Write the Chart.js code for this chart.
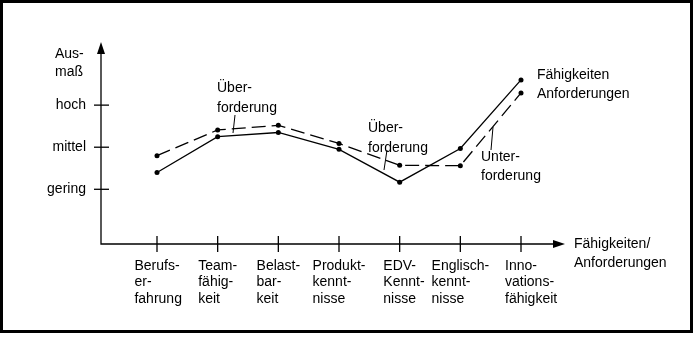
<!DOCTYPE html>
<html>
<head>
<meta charset="utf-8">
<script src="https://cdn.jsdelivr.net/npm/chart.js@4"></script>
<style>
  html, body { margin: 0; padding: 0; background: #fff; }
  #wrap { width: 694px; height: 337px; }
</style>
</head>
<body>
<div id="wrap"><canvas id="lineChart" width="694" height="337"></canvas></div>
<script>
// categories, each split into its printed lines
var categories = [
    ["Berufs-", "er-", "fahrung"],
    ["Team-", "fähig-", "keit"],
    ["Belast-", "bar-", "keit"],
    ["Produkt-", "kennt-", "nisse"],
    ["EDV-", "Kennt-", "nisse"],
    ["Englisch-", "kennt-", "nisse"],
    ["Inno-", "vations-", "fähigkeit"]
];

// 1 = gering, 2 = mittel, 3 = hoch
var faehigkeiten = [1.40, 2.25, 2.35, 1.95, 1.17, 1.97, 3.60];
var anforderungen = [1.80, 2.41, 2.52, 2.09, 1.57, 1.56, 3.29];

var levelValues = [1, 2, 3];
var levelLabels = ["gering", "mittel", "hoch"];

var FONT = '14px "Liberation Sans", Arial, sans-serif';

// axes, labels and notes drawn on top of the chart
var sketch = {
    id: 'sketch',
    afterDraw: function (chart) {
        var c = chart.ctx;
        var xs = chart.scales.x, ys = chart.scales.y;
        var axisX = 101, axisY = ys.getPixelForValue(-0.3);
        var topY = 42, rightX = 565;

        c.save();
        c.strokeStyle = '#000';
        c.fillStyle = '#000';

        // frame
        c.lineWidth = 3;
        c.strokeRect(1.5, 1.5, 690, 330);

        // axes
        c.lineWidth = 1.3;
        c.beginPath();
        c.moveTo(axisX, topY + 8);
        c.lineTo(axisX, axisY);
        c.lineTo(rightX - 8, axisY);
        c.stroke();
        c.beginPath();
        c.moveTo(axisX, topY);
        c.lineTo(axisX - 4, topY + 12);
        c.lineTo(axisX + 4, topY + 12);
        c.closePath();
        c.fill();
        c.beginPath();
        c.moveTo(rightX, axisY);
        c.lineTo(rightX - 12, axisY - 4);
        c.lineTo(rightX - 12, axisY + 4);
        c.closePath();
        c.fill();

        c.font = FONT;

        // y ticks
        c.textBaseline = 'middle';
        c.textAlign = 'right';
        levelValues.forEach(function (v, i) {
            var py = ys.getPixelForValue(v);
            c.beginPath();
            c.moveTo(axisX - 7, py);
            c.lineTo(axisX + 8, py);
            c.stroke();
            c.fillText(levelLabels[i], 86, py);
        });
        c.textAlign = 'left';
        c.fillText('Aus-', 55, 54);
        c.fillText('maß', 55, 72);

        // x ticks and category labels
        categories.forEach(function (lines, i) {
            var px = xs.getPixelForValue(i);
            c.beginPath();
            c.moveTo(px, axisY - 8);
            c.lineTo(px, axisY + 8);
            c.stroke();
            var left = px - c.measureText(lines[0]).width / 2;
            lines.forEach(function (t, k) {
                c.fillText(t, left, 266 + k * 16.5);
            });
        });
        c.fillText('Fähigkeiten/', 574, axisY);
        c.fillText('Anforderungen', 574, axisY + 19);

        // series names at the line ends
        var last = categories.length - 1;
        c.fillText('Fähigkeiten', xs.getPixelForValue(last) + 16, ys.getPixelForValue(faehigkeiten[last]) - 5);
        c.fillText('Anforderungen', xs.getPixelForValue(last) + 16, ys.getPixelForValue(anforderungen[last]) + 1);

        // notes with leader lines
        c.fillText('Über-', 217, 88);
        c.fillText('forderung', 217, 108);
        c.fillText('Über-', 368, 128);
        c.fillText('forderung', 368, 148);
        c.fillText('Unter-', 481, 157);
        c.fillText('forderung', 481, 176);
        c.lineWidth = 1;
        c.beginPath();
        c.moveTo(235, 115); c.lineTo(233, 133);
        c.moveTo(387, 150); c.lineTo(384, 170);
        c.moveTo(493, 127); c.lineTo(491, 150);
        c.stroke();

        c.restore();
    }
};

var ctx = document.getElementById("lineChart").getContext("2d");
new Chart(ctx, {
    type: 'line',
    data: {
        labels: categories,
        datasets: [
            {
                label: "Fähigkeiten",
                data: faehigkeiten,
                borderColor: '#000',
                backgroundColor: '#000',
                borderWidth: 1.3,
                pointRadius: 2.5,
                pointBackgroundColor: '#000',
                pointBorderWidth: 0,
                tension: 0,
                clip: false
            },
            {
                label: "Anforderungen",
                data: anforderungen,
                borderColor: '#000',
                backgroundColor: '#000',
                borderWidth: 1.3,
                borderDash: [14, 6],
                pointRadius: 2.5,
                pointBackgroundColor: '#000',
                pointBorderWidth: 0,
                tension: 0,
                clip: false
            }
        ]
    },
    options: {
        responsive: false,
        animation: false,
        layout: { padding: { left: 157, right: 173, top: 42, bottom: 93 } },
        plugins: { legend: { display: false }, tooltip: { enabled: false } },
        scales: {
            x: { type: 'category', display: false, offset: false },
            y: { type: 'linear', display: false, min: -0.3, max: 4.5 }
        }
    },
    plugins: [sketch]
});
</script>
</body>
</html>
